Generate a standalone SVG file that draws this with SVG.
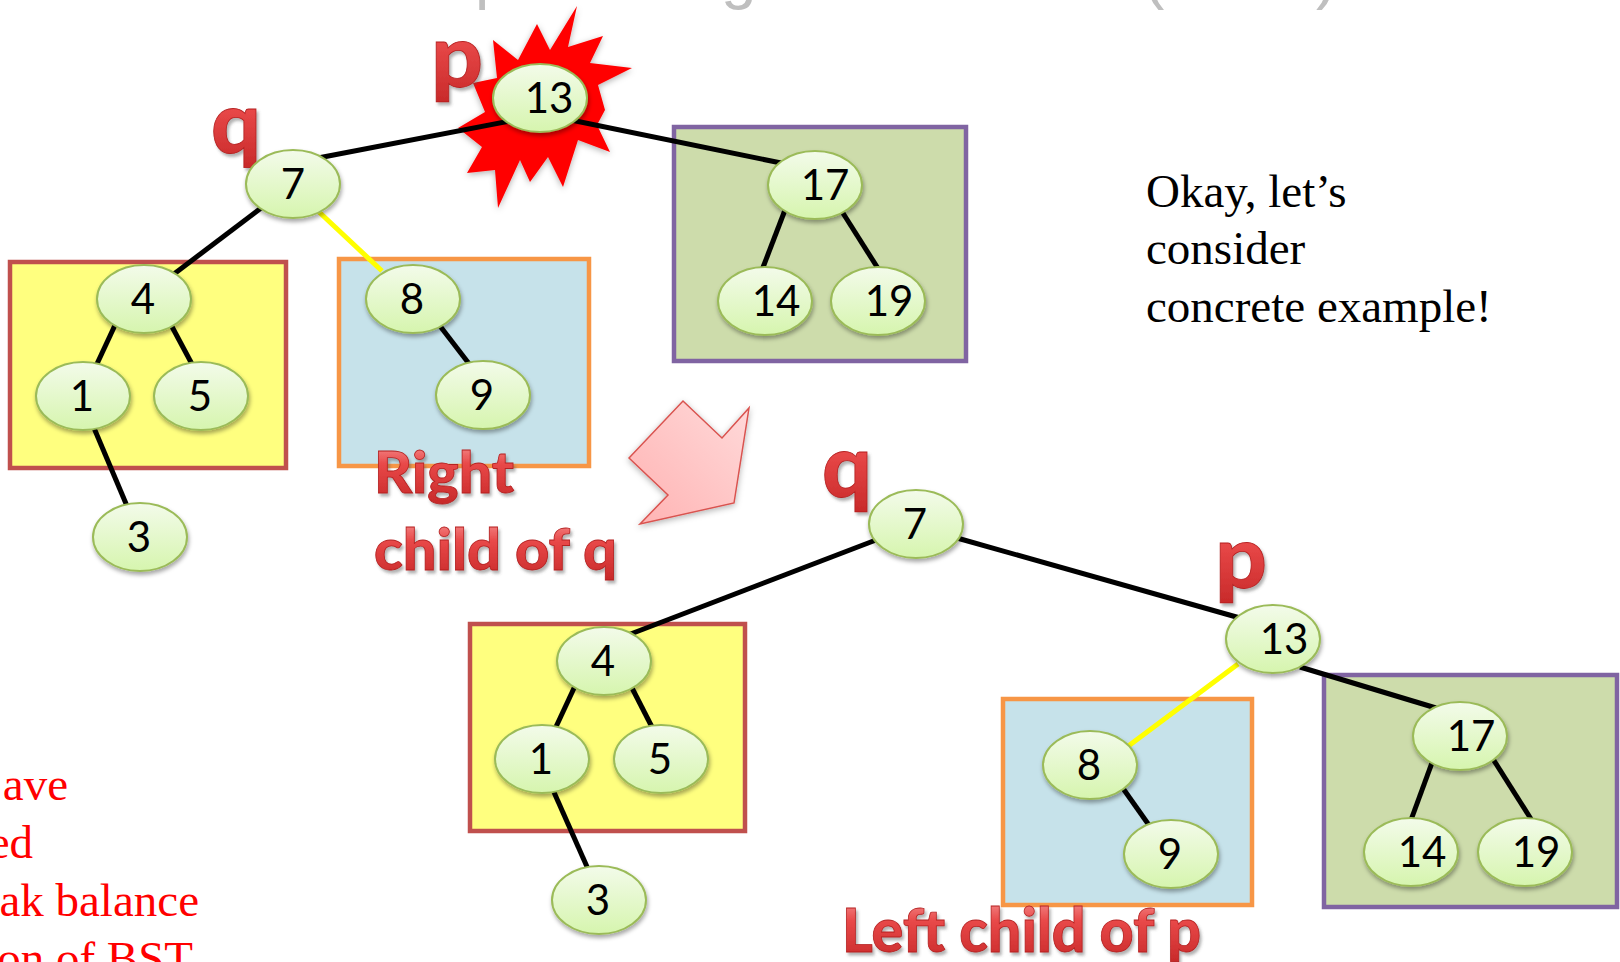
<svg xmlns="http://www.w3.org/2000/svg" width="1620" height="962" viewBox="0 0 1620 962">
  <defs>
    <linearGradient id="nodeFill" x1="0" y1="0" x2="0" y2="1">
      <stop offset="0" stop-color="#F3FBEA"/>
      <stop offset="1" stop-color="#D6F5AE"/>
    </linearGradient>
    <linearGradient id="redGloss" x1="0" y1="0" x2="0" y2="1">
      <stop offset="0" stop-color="#F8A2A2"/>
      <stop offset="0.4" stop-color="#E84848"/>
      <stop offset="1" stop-color="#C62828"/>
    </linearGradient>
    <linearGradient id="arrowFill" x1="1" y1="0" x2="0" y2="1">
      <stop offset="0" stop-color="#FFDADA"/>
      <stop offset="1" stop-color="#FFB2B2"/>
    </linearGradient>
    <filter id="shadow" x="-20%" y="-20%" width="140%" height="150%">
      <feDropShadow dx="1" dy="3" stdDeviation="2" flood-color="#000" flood-opacity="0.35"/>
    </filter>
    <filter id="softShadow" x="-20%" y="-20%" width="140%" height="140%">
      <feDropShadow dx="0" dy="2" stdDeviation="3" flood-color="#000" flood-opacity="0.3"/>
    </filter>
    <filter id="labelShadow" x="-20%" y="-20%" width="140%" height="150%">
      <feDropShadow dx="2" dy="3" stdDeviation="1.5" flood-color="#555" flood-opacity="0.45"/>
    </filter>
  </defs>
  <style>
    .node ellipse { fill: url(#nodeFill); stroke: #9BBB59; stroke-width: 2; filter: url(#shadow); }
    .node text { font-family: Lato, "Liberation Sans", sans-serif; font-size: 42px; fill: #000; text-anchor: middle; }
    .edge { stroke: #000; stroke-width: 5; fill: none; }
    .edge.hl { stroke: #FFFF00; stroke-width: 5; }
    .box { stroke-width: 4.5; }
    .box.yellow { fill: #FFFF7F; stroke: #C0504D; }
    .box.blue { fill: #C6E2EA; stroke: #F79646; }
    .box.green { fill: #CDDCAB; stroke: #8064A2; }
    .tag { font-family: Lato, "Liberation Sans", sans-serif; font-weight: 900; fill: url(#redGloss); stroke: #B52020; stroke-width: 0.8; filter: url(#labelShadow); }
    .note { font-family: "Liberation Serif", "Times New Roman", serif; font-size: 47px; }
    .title { font-family: "Liberation Sans", sans-serif; font-size: 64px; fill: #BFBFBF; }
  </style>

  <!-- title line sitting above the top edge -->
  <g id="title">
    <text class="title" x="475" y="-3">p</text>
    <text class="title" x="721" y="-3">g</text>
    <text class="title" x="1143" y="-3">(</text>
    <text class="title" x="1316" y="-3">)</text>
  </g>

  <!-- subtree boxes -->
  <g id="boxes">
    <rect id="box-top-left" class="box yellow" x="10" y="262" width="276" height="206"/>
    <rect id="box-top-mid" class="box blue" x="339" y="259" width="250" height="207"/>
    <rect id="box-top-right" class="box green" x="674" y="127" width="292" height="234"/>
    <rect id="box-bot-left" class="box yellow" x="470" y="624" width="275" height="207"/>
    <rect id="box-bot-mid" class="box blue" x="1003" y="699" width="249" height="206"/>
    <rect id="box-bot-right" class="box green" x="1324" y="675" width="293" height="232"/>
  </g>

  <!-- burst behind the unbalanced node -->
  <polygon id="burst" fill="#FF0000" filter="url(#softShadow)"
    points="577,6 568,47 603,36 590,63 632,68 598,85 605,110 597,125 610,152 578,140 563,187 548,157 530,182 520,160 498,208 495,170 467,173 482,147 458,128 485,112 473,83 497,78 493,40 518,60 537,24 550,50"/>

  <!-- transformation arrow -->
  <polygon id="arrow" fill="url(#arrowFill)" stroke="#D9534F" stroke-width="1.5" filter="url(#softShadow)"
    points="629,458 683,401 722,438 749,408 734,503 640,524 668,495"/>

  <!-- connectors -->
  <g id="connectors">
    <!-- before rotation -->
    <line class="edge" x1="318" y1="158" x2="515" y2="120"/>
    <line class="edge" x1="566" y1="119" x2="786" y2="164"/>
    <line class="edge" x1="265" y1="205" x2="170" y2="277"/>
    <line class="edge hl" x1="318" y1="211" x2="382" y2="271"/>
    <line class="edge" x1="116" y1="323" x2="96" y2="366"/>
    <line class="edge" x1="170" y1="323" x2="193" y2="366"/>
    <line class="edge" x1="94" y1="428" x2="127" y2="506"/>
    <line class="edge" x1="440" y1="326" x2="470" y2="365"/>
    <line class="edge" x1="785" y1="210" x2="762" y2="270"/>
    <line class="edge" x1="841" y1="210" x2="879" y2="270"/>
    <!-- after rotation -->
    <line class="edge" x1="876" y1="540" x2="628" y2="635"/>
    <line class="edge" x1="957" y1="538" x2="1240" y2="618"/>
    <line class="edge hl" x1="1238" y1="664" x2="1127" y2="747"/>
    <line class="edge" x1="1300" y1="667" x2="1436" y2="708"/>
    <line class="edge" x1="1122" y1="787" x2="1151" y2="828"/>
    <line class="edge" x1="1433" y1="760" x2="1411" y2="820"/>
    <line class="edge" x1="1493" y1="759" x2="1531" y2="819"/>
    <line class="edge" x1="575" y1="686" x2="555" y2="729"/>
    <line class="edge" x1="631" y1="686" x2="653" y2="729"/>
    <line class="edge" x1="553" y1="790" x2="588" y2="869"/>
  </g>

  <!-- pointer labels -->
  <g id="labels">
    <text class="tag" x="211" y="153" font-size="86" textLength="50" lengthAdjust="spacingAndGlyphs">q</text>
    <text class="tag" x="431" y="87" font-size="88" textLength="52" lengthAdjust="spacingAndGlyphs">p</text>
    <text class="tag" x="822" y="497" font-size="88" textLength="50" lengthAdjust="spacingAndGlyphs">q</text>
    <text class="tag" x="1215" y="588" font-size="88" textLength="52" lengthAdjust="spacingAndGlyphs">p</text>
    <text class="tag" x="374" y="493" font-size="57" textLength="140" lengthAdjust="spacingAndGlyphs">Right</text>
    <text class="tag" x="374" y="570" font-size="57" textLength="243" lengthAdjust="spacingAndGlyphs">child of q</text>
    <text class="tag" x="842" y="952" font-size="61" textLength="359" lengthAdjust="spacingAndGlyphs">Left child of p</text>
  </g>

  <!-- tree before rotation -->
  <g id="n-a13" class="node"><ellipse cx="540" cy="98" rx="47" ry="34"/><text x="549" y="113">13</text></g>
  <g id="n-a7" class="node"><ellipse cx="293" cy="184" rx="47" ry="34"/><text x="293" y="199">7</text></g>
  <g id="n-a17" class="node"><ellipse cx="815" cy="185" rx="47" ry="34"/><text x="825" y="200">17</text></g>
  <g id="n-a14" class="node"><ellipse cx="765" cy="301" rx="47" ry="34"/><text x="776" y="316">14</text></g>
  <g id="n-a19" class="node"><ellipse cx="878" cy="301" rx="47" ry="34"/><text x="889" y="316">19</text></g>
  <g id="n-a4" class="node"><ellipse cx="144" cy="299" rx="47" ry="34"/><text x="143" y="314">4</text></g>
  <g id="n-a1" class="node"><ellipse cx="83" cy="396" rx="47" ry="34"/><text x="82" y="411">1</text></g>
  <g id="n-a5" class="node"><ellipse cx="201" cy="396" rx="47" ry="34"/><text x="200" y="411">5</text></g>
  <g id="n-a3" class="node"><ellipse cx="140" cy="537" rx="47" ry="34"/><text x="139" y="552">3</text></g>
  <g id="n-a8" class="node"><ellipse cx="413" cy="299" rx="47" ry="34"/><text x="412" y="314">8</text></g>
  <g id="n-a9" class="node"><ellipse cx="483" cy="395" rx="47" ry="34"/><text x="482" y="410">9</text></g>

  <!-- tree after rotation -->
  <g id="n-b7" class="node"><ellipse cx="916" cy="524" rx="47" ry="34"/><text x="915" y="539">7</text></g>
  <g id="n-b4" class="node"><ellipse cx="604" cy="661" rx="47" ry="34"/><text x="603" y="676">4</text></g>
  <g id="n-b1" class="node"><ellipse cx="542" cy="759" rx="47" ry="34"/><text x="541" y="774">1</text></g>
  <g id="n-b5" class="node"><ellipse cx="661" cy="759" rx="47" ry="34"/><text x="660" y="774">5</text></g>
  <g id="n-b3" class="node"><ellipse cx="599" cy="900" rx="47" ry="34"/><text x="598" y="915">3</text></g>
  <g id="n-b13" class="node"><ellipse cx="1273" cy="639" rx="47" ry="34"/><text x="1284" y="654">13</text></g>
  <g id="n-b8" class="node"><ellipse cx="1090" cy="765" rx="47" ry="34"/><text x="1089" y="780">8</text></g>
  <g id="n-b9" class="node"><ellipse cx="1171" cy="854" rx="47" ry="34"/><text x="1170" y="869">9</text></g>
  <g id="n-b17" class="node"><ellipse cx="1460" cy="736" rx="47" ry="34"/><text x="1471" y="751">17</text></g>
  <g id="n-b14" class="node"><ellipse cx="1411" cy="852" rx="47" ry="34"/><text x="1422" y="867">14</text></g>
  <g id="n-b19" class="node"><ellipse cx="1525" cy="852" rx="47" ry="34"/><text x="1536" y="867">19</text></g>

  <!-- side notes -->
  <g id="note-right" class="note" fill="#000">
    <text x="1146" y="207">Okay, let’s</text>
    <text x="1146" y="264">consider</text>
    <text x="1146" y="322">concrete example!</text>
  </g>
  <g id="note-left" class="note" fill="#FF0000" text-anchor="end">
    <text x="68" y="800">ave</text>
    <text x="33" y="858">ed</text>
    <text x="199" y="916">ak balance</text>
    <text x="193" y="974">on of BST</text>
  </g>
</svg>
